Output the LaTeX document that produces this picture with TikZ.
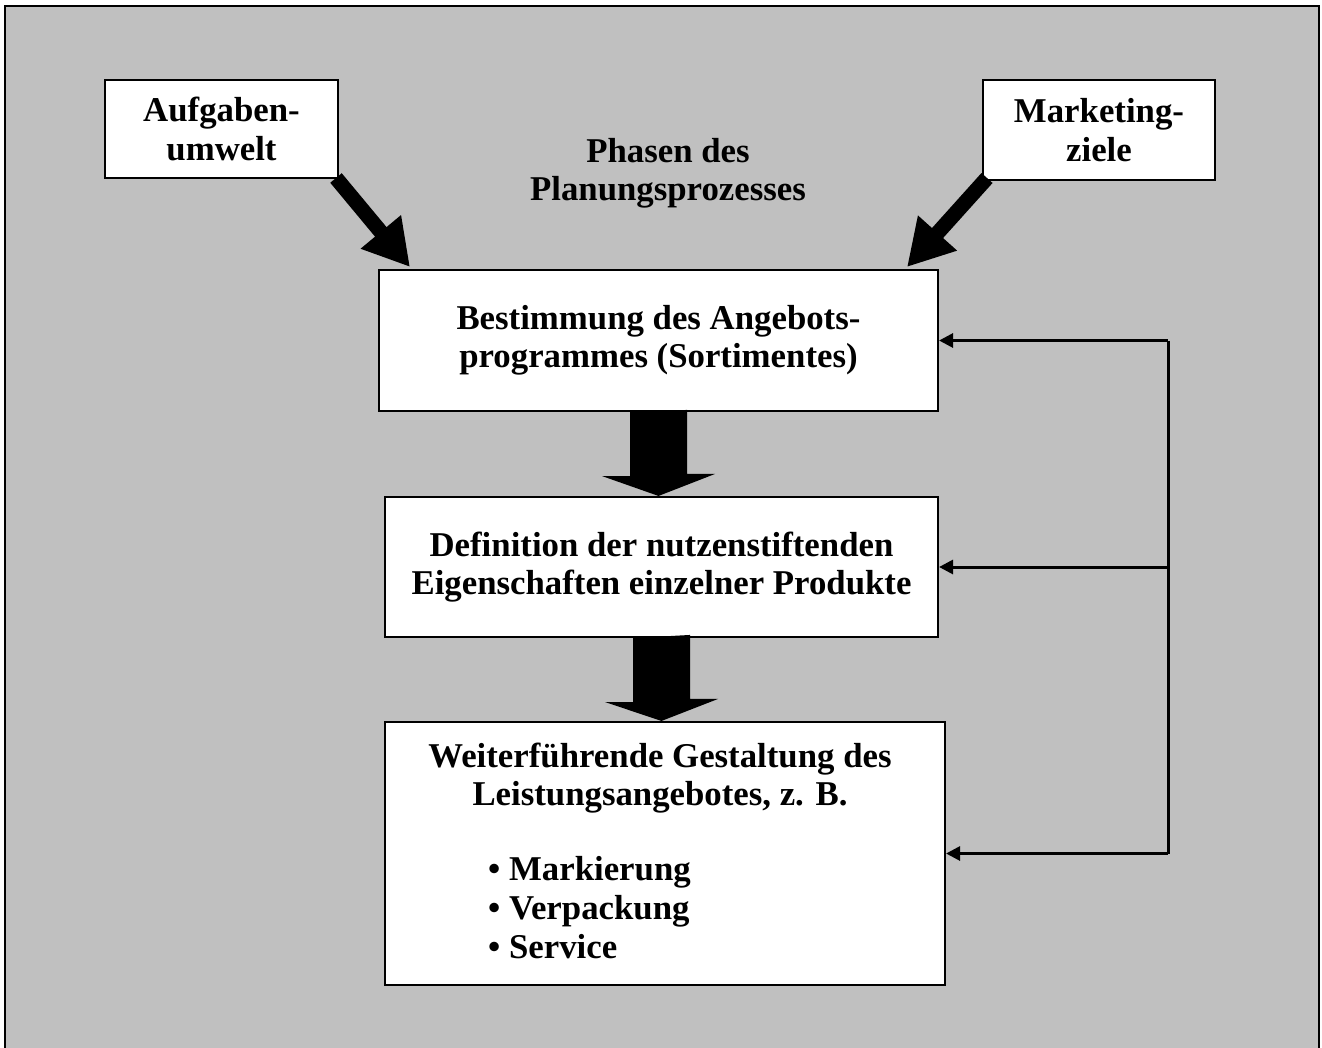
\documentclass[tikz,border=0pt]{standalone}
\usepackage{fontspec}
\setmainfont{Liberation Serif}
\usetikzlibrary{arrows.meta}

\definecolor{grau}{RGB}{192,192,192}

\tikzset{
  kasten/.style={draw=black, line width=1.2pt, fill=white, inner sep=0pt},
  schrift/.style={font=\fontsize{19.8}{21.8}\selectfont\bfseries, align=center},
  dickpfeil/.style={line width=8.5pt, -{Triangle[width=28pt,length=26pt]}},
  rueckpfeil/.style={line width=1.7pt, -{Triangle[width=8pt,length=8pt]}}
}

\begin{document}
\begin{tikzpicture}[x=0.02cm,y=-0.02cm]
\useasboundingbox (0,0) rectangle (1322,1048);
\begin{scope}
\clip (0,0) rectangle (1322,1048);
\draw[fill=grau, line width=1.4pt] (5,6) rectangle (1319,1070);
\end{scope}

\node[kasten, minimum width=233*0.02cm, minimum height=98*0.02cm] (aufg) at (221.5,129) {};
\node[schrift] at (aufg) {Aufgaben-\\umwelt};
\node[kasten, minimum width=232*0.02cm, minimum height=100*0.02cm] (mziel) at (1099,130) {};
\node[schrift] at (mziel) {Marketing-\\ziele};
\node[schrift] (titel) at (668,173) {Phasen des\\Planungsprozesses};

\node[kasten, minimum width=559*0.02cm, minimum height=141*0.02cm] (best) at (658.5,340.5) {};
\node[schrift] at (best) {Bestimmung des Angebots-\\programmes (Sortimentes)};
\node[kasten, minimum width=553*0.02cm, minimum height=140*0.02cm] (defi) at (661.5,567) {};
\node[schrift] at (defi) {Definition der nutzenstiftenden\\Eigenschaften einzelner Produkte};
\node[kasten, minimum width=560*0.02cm, minimum height=263*0.02cm] (gest) at (665,853.5) {};
\node[schrift] (gesttitel) at (660,778) {Weiterführende Gestaltung des\\Leistungsangebotes, z. B.};
\node[schrift, align=left, anchor=west, font=\fontsize{19.8}{22.2}\selectfont\bfseries] (liste) at (482,908) {• Markierung\\• Verpackung\\• Service};

% Hilfspunkte
\coordinate (a1) at (336,178);
\coordinate (a2) at (410,267);
\coordinate (m1) at (987,178);
\coordinate (m2) at (907,267);
\coordinate (rueck) at (1168,0);

\draw[dickpfeil] (a1) -- (a2);
\draw[dickpfeil] (m1) -- (m2);

% Blockpfeile zwischen den Phasen
\foreach \o/\u in {best/defi,defi/gest}
\fill (\o.south) ++(-28.5,0) -- ++(0,64) -- ++(-28,0) -- (\o.south |- \u.north)
  -- ++(56.5,-22) -- ++(-28,0) -- ++(0,-64) -- cycle;

\draw[line width=1.7pt] (rueck |- best.east) -- (rueck |- gest.east);
\foreach \k in {best,defi,gest}
\draw[rueckpfeil] (rueck |- \k.east) -- (\k.east);
\end{tikzpicture}
\end{document}
